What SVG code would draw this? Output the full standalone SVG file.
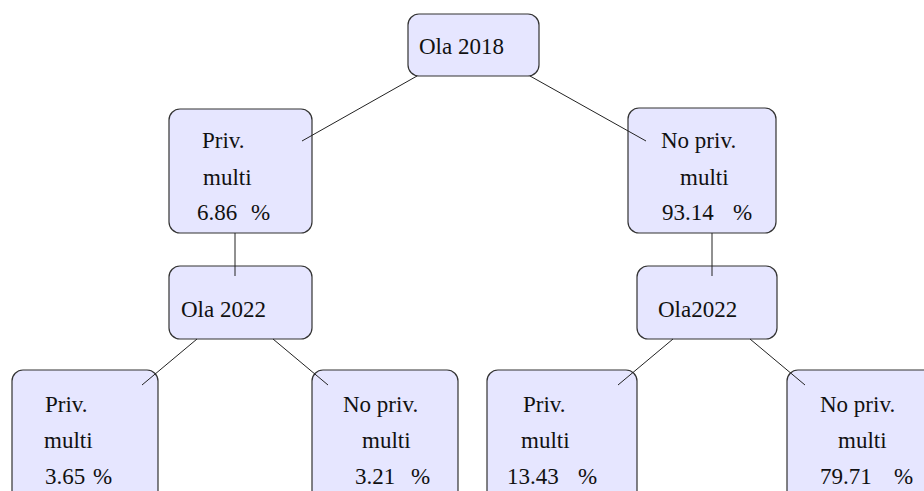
<svg xmlns="http://www.w3.org/2000/svg" width="924" height="491" viewBox="0 0 924 491">
<style>
.box{fill:#e6e6ff;stroke:#333;stroke-width:1.2}
.t{font-size:23px;fill:#111}
.edge{stroke:#222;stroke-width:1;fill:none}
</style>
<rect width="924" height="491" fill="#fff"/>
<g class="t" font-family="'Liberation Serif', 'DejaVu Serif', serif">
<g id="n-root"><rect class="box" x="408" y="14" width="131" height="62" rx="11"/><text x="419" y="54">Ola 2018</text></g>
<g id="n-priv"><rect class="box" x="169" y="109" width="143" height="124" rx="11"/><text x="202" y="148">Priv.</text><text x="203" y="185">multi</text><text y="220"><tspan x="197">6.86</tspan><tspan x="251">%</tspan></text></g>
<g id="n-nopriv"><rect class="box" x="628" y="108" width="148" height="125" rx="11"/><text x="661" y="148">No priv.</text><text x="680" y="185">multi</text><text y="220"><tspan x="662">93.14</tspan><tspan x="733">%</tspan></text></g>
<g id="n-ola22l"><rect class="box" x="169" y="266" width="143" height="73" rx="11"/><text x="181" y="317">Ola 2022</text></g>
<g id="n-ola22r"><rect class="box" x="637" y="266" width="140" height="73" rx="11"/><text x="658" y="317">Ola2022</text></g>
<g id="n-ll"><rect class="box" x="12" y="370" width="146" height="140" rx="11"/><text x="45" y="412">Priv.</text><text x="44" y="448">multi</text><text y="484"><tspan x="45">3.65</tspan><tspan x="93">%</tspan></text></g>
<g id="n-lr"><rect class="box" x="312" y="370" width="146" height="140" rx="11"/><text x="343" y="412">No priv.</text><text x="362" y="448">multi</text><text y="484"><tspan x="355">3.21</tspan><tspan x="411">%</tspan></text></g>
<g id="n-rl"><rect class="box" x="487" y="370" width="150" height="140" rx="11"/><text x="523" y="412">Priv.</text><text x="521" y="448">multi</text><text y="484"><tspan x="507">13.43</tspan><tspan x="578">%</tspan></text></g>
<g id="n-rr"><rect class="box" x="787" y="370" width="150" height="140" rx="11"/><text x="820" y="412">No priv.</text><text x="838" y="448">multi</text><text y="484"><tspan x="820">79.71</tspan><tspan x="894">%</tspan></text></g>
</g>
<g id="connectors">
<line class="edge" x1="417" y1="76" x2="302" y2="141"/>
<line class="edge" x1="530" y1="76" x2="646" y2="141"/>
<line class="edge" x1="235" y1="233" x2="235" y2="276"/>
<line class="edge" x1="712" y1="233" x2="712" y2="276"/>
<line class="edge" x1="197" y1="339" x2="142" y2="385"/>
<line class="edge" x1="273" y1="339" x2="328" y2="385"/>
<line class="edge" x1="673" y1="339" x2="618" y2="385"/>
<line class="edge" x1="750" y1="339" x2="805" y2="385"/>
</g>
</svg>
